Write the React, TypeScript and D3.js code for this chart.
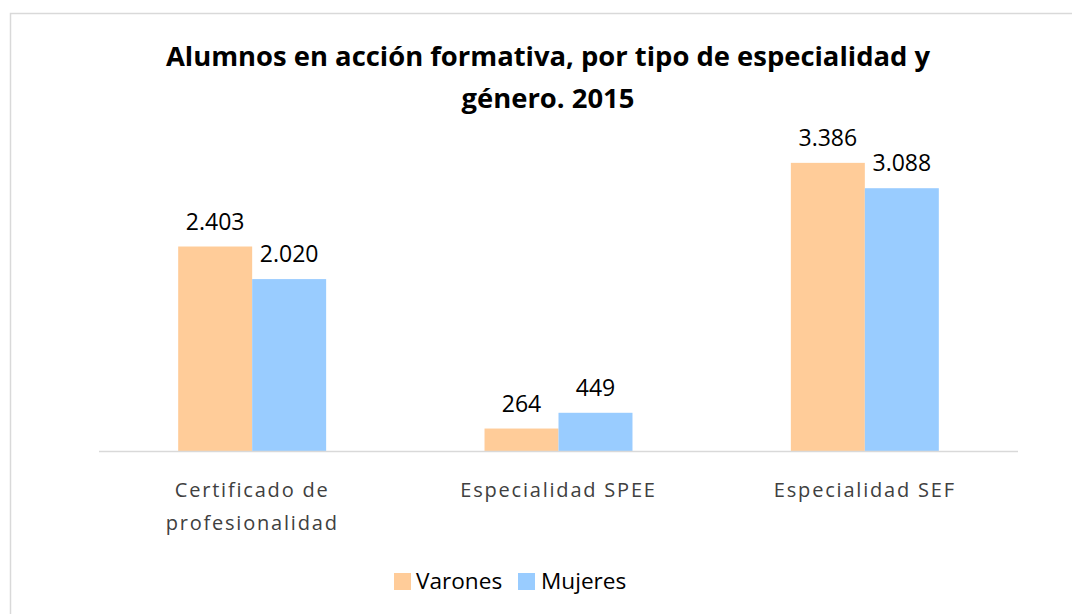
import React from 'react';
import * as d3 from 'd3';

// chart data
const categories = ['Certificado de profesionalidad', 'Especialidad SPEE', 'Especialidad SEF'];
const categoryLines = [['Certificado de', 'profesionalidad'], ['Especialidad SPEE'], ['Especialidad SEF']];
const seriesNames = ['Varones', 'Mujeres'];
const varones = [2403, 264, 3386];
const mujeres = [2020, 449, 3088];
const colors = ['#FFCC99', '#99CCFF'];

const W = 1072;
const H = 614;
const font = "'Open Sans', 'Noto Sans', sans-serif";

const App = () => {
  const x = d3.scaleBand<string>()
    .domain(categories)
    .range([99, 1018])
    .paddingInner(0.517)
    .paddingOuter(0.2585);

  const xs = d3.scaleBand<string>()
    .domain(seriesNames)
    .range([0, x.bandwidth()]);

  const y = d3.scaleLinear()
    .domain([0, 4000])
    .range([451, 451 - 4000 * 0.0851]);

  const fmt = (v: number) => d3.format(',')(v).replace(/,/g, '.');
  const series = [varones, mujeres];

  return (
    <svg width={W} height={H} style={{ position: 'absolute', left: 0, top: 0 }} fontFamily={font}>
      <rect x={0} y={0} width={W} height={H} fill="#fff" />
      <rect x={10.5} y={13.5} width={W + 20} height={H + 20} fill="#fff" stroke="#d9d9d9" strokeWidth={1.5} />

      <text x={548} y={66} textAnchor="middle" fontSize={27.4} fontWeight="bold" fill="#000">
        Alumnos en acción formativa, por tipo de especialidad y
      </text>
      <text x={548} y={108} textAnchor="middle" fontSize={27.4} fontWeight="bold" fill="#000">
        género. 2015
      </text>

      {series.map((vals, si) => (
        <g key={seriesNames[si]}>
          {categories.map((c, ci) => {
            const bx = (x(c) ?? 0) + (xs(seriesNames[si]) ?? 0);
            const top = y(vals[ci]);
            return (
              <g key={c}>
                <rect x={bx} y={top} width={xs.bandwidth()} height={y(0) - top} fill={colors[si]} />
                <text x={bx + xs.bandwidth() / 2} y={top - 17} textAnchor="middle" fontSize={23} fill="#000">
                  {fmt(vals[ci])}
                </text>
              </g>
            );
          })}
        </g>
      ))}

      <line x1={99} x2={1018} y1={y(0) + 0.5} y2={y(0) + 0.5} stroke="#d9d9d9" strokeWidth={1.5} />

      {categories.map((c, ci) => (
        <text key={c} textAnchor="middle" fontSize={20} letterSpacing={1.8} fill="#404040">
          {categoryLines[ci].map((ln, li) => (
            <tspan key={li} x={(x(c) ?? 0) + x.bandwidth() / 2} y={497 + li * 33}>{ln}</tspan>
          ))}
        </text>
      ))}

      <g>
        <rect x={394} y={573} width={17} height={17} fill={colors[0]} />
        <text x={416} y={589} fontSize={22.6} fill="#000">{seriesNames[0]}</text>
        <rect x={518} y={573} width={17} height={17} fill={colors[1]} />
        <text x={541} y={589} fontSize={22.6} fill="#000">{seriesNames[1]}</text>
      </g>
    </svg>
  );
};

export default App;
